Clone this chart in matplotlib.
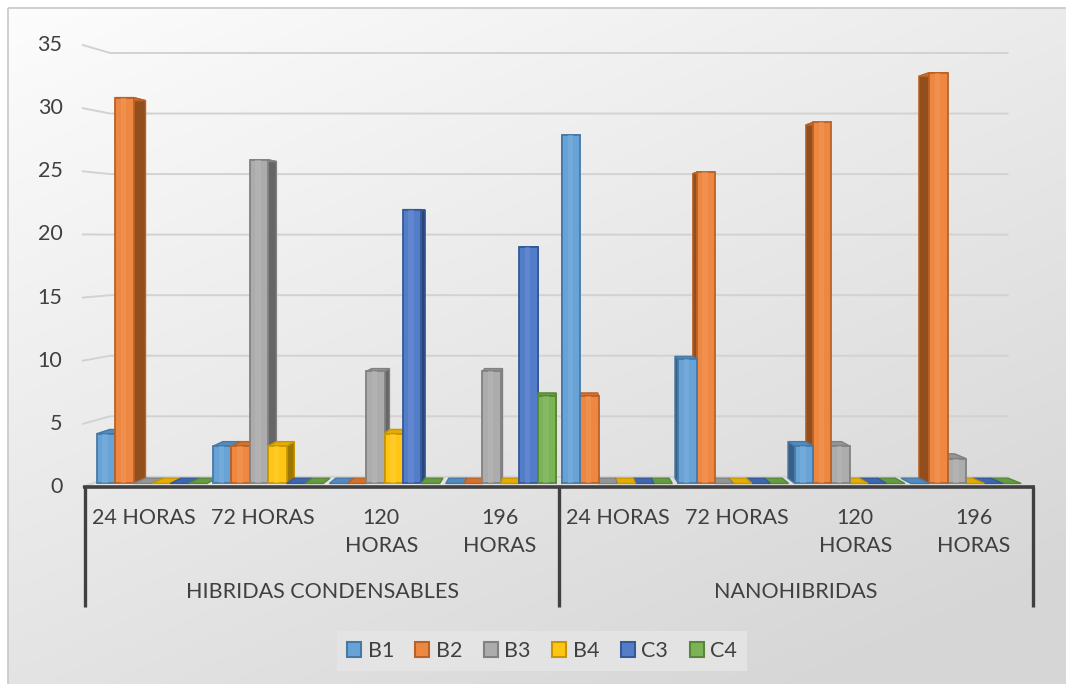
import numpy as np
import matplotlib.pyplot as plt
from matplotlib.patches import Polygon, Patch, Rectangle
import matplotlib.colors as mcolors

# datos: grupos de material, tiempos de medida y series
grupos = ["HIBRIDAS CONDENSABLES", "NANOHIBRIDAS"]
tiempos = ["24 HORAS", "72 HORAS", "120\nHORAS", "196\nHORAS"]
series = ["B1", "B2", "B3", "B4", "C3", "C4"]
colores = ["#5B9BD5", "#ED7D31", "#A5A5A5", "#FFC000", "#4472C4", "#70AD47"]

b1 = [4, 3, 0, 0, 28, 10, 3, 0]
b2 = [31, 3, 0, 0, 7, 25, 29, 33]
b3 = [0, 26, 9, 9, 0, 0, 3, 2]
b4 = [0, 3, 4, 0, 0, 0, 0, 0]
c3 = [0, 0, 22, 19, 0, 0, 0, 0]
c4 = [0, 0, 0, 7, 0, 0, 0, 0]
valores = [b1, b2, b3, b4, c3, c4]

yticks = [0, 5, 10, 15, 20, 25, 30, 35]

n_cat = len(grupos) * len(tiempos)

# perspectiva sencilla: punto de fuga y profundidad de barras y pared
XV, YV = n_cat / 2, 19.6
KX, KY = 0.053, 0.041
D_FRENTE, D_FONDO = 0.35, 0.87

def proy(x, y, d):
    return XV + (x - XV) * (1 - KX * d), YV + (y - YV) * (1 - KY * d)

def tono(c, f):
    r = np.array(mcolors.to_rgb(c))
    if f < 1:
        return tuple(r * f)
    return tuple(r + (1 - r) * (f - 1))

texto = "#404040"
plt.rcParams['font.family'] = ['Lato', 'DejaVu Sans']

fig = plt.figure(figsize=(10.66, 6.84), dpi=100)

# fondo degradado con marco
fondo = fig.add_axes([0, 0, 1, 1], zorder=-10)
gx, gy = np.meshgrid(np.linspace(0, 1, 300), np.linspace(0, 1, 200))
t = np.clip(0.45 * gx + 0.65 * gy, 0, 1)
img = np.dstack([0.99 - 0.15 * t] * 3)
fondo.imshow(img, extent=[8, 1066, 684, 8], aspect='auto')
fondo.add_patch(Rectangle((8, 8), 1070, 690, fill=False, ec="#c8c8c8", lw=1.2))
fondo.set_xlim(0, 1066)
fondo.set_ylim(684, 0)
fondo.axis('off')

ax = fig.add_axes([85 / 1066, (684 - 487) / 684, 948 / 1066, 442 / 684])
ax.set_xlim(0, n_cat)
ax.set_ylim(0, 35)
ax.axis('off')

# lineas de division en la pared del fondo
for v in yticks:
    xa, ya = proy(-0.02, v, 0)
    xb, yb = proy(0, v, 1)
    xc, yc = proy(n_cat, v, 1)
    ax.plot([xa, xb, xc], [ya, yb, yc], color="#d2d2d2", lw=1.4,
            solid_capstyle='round', clip_on=False, zorder=1)
    ax.text(-0.19, v, str(v), ha='right', va='center', fontsize=15.5,
            color=texto)

# barras con caras frontal, lateral y superior
ancho = 0.158
margen = (1 - len(series) * ancho) / 2
z = 5
for i in range(n_cat):
    orden = list(range(len(series)))
    if i >= n_cat / 2:
        orden = orden[::-1]
    for k in orden:
        h = valores[k][i]
        c = colores[k]
        x0 = i + margen + k * ancho
        x1 = x0 + ancho
        borde = tono(c, 0.78)
        xs = x1 if x1 <= XV else x0
        if h > 0:
            lado = [proy(xs, 0, D_FRENTE), proy(xs, h, D_FRENTE),
                    proy(xs, h, D_FONDO), proy(xs, 0, D_FONDO)]
            ax.add_patch(Polygon(lado, closed=True, fc=tono(c, 0.62),
                                 ec=borde, lw=1.0, zorder=z, clip_on=False))
        tapa = [proy(x0, h, D_FRENTE), proy(x1, h, D_FRENTE),
                proy(x1, h, D_FONDO), proy(x0, h, D_FONDO)]
        ax.add_patch(Polygon(tapa, closed=True, fc=tono(c, 0.9),
                             ec=borde, lw=1.0, zorder=z + 1, clip_on=False))
        if h > 0:
            fx0, fy0 = proy(x0, 0, D_FRENTE)
            fx1, fy1 = proy(x1, h, D_FRENTE)
            ax.add_patch(Rectangle((fx0, fy0), fx1 - fx0, fy1 - fy0,
                                   fc=tono(c, 1.08), ec=borde, lw=1.3,
                                   zorder=z + 2, clip_on=False))
            w = fx1 - fx0
            ax.add_patch(Rectangle((fx0 + 0.3 * w, fy0), 0.3 * w, fy1 - fy0,
                                   fc=tono(c, 1.2), ec='none', alpha=0.6,
                                   zorder=z + 3, clip_on=False))
        z += 4

# eje de categorias con dos niveles
ax.plot([-0.02, n_cat + 0.02], [0, 0], color="#404040", lw=2.6,
        clip_on=False, zorder=200, solid_capstyle='butt')
for xv in [0, n_cat / 2, n_cat]:
    ax.plot([xv, xv], [0, -9.5], color="#404040", lw=2.4, clip_on=False,
            zorder=200, solid_capstyle='butt')

for i in range(n_cat):
    lineas = tiempos[i % len(tiempos)].split("\n")
    for j, linea in enumerate(lineas):
        ax.text(i + 0.5, -2.45 - j * 2.2, linea, ha='center', va='center',
                fontsize=15.5, color=texto)
for g, nombre in enumerate(grupos):
    ax.text(g * len(tiempos) + len(tiempos) / 2, -8.35, nombre, ha='center',
            va='center', fontsize=15.5, color=texto)

# leyenda
manejadores = [Patch(fc=tono(c, 1.08), ec=tono(c, 0.78), lw=1.5)
               for c in colores]
leg = fig.legend(manejadores, series, loc='center', ncol=6,
                 bbox_to_anchor=(542 / 1066, 1 - 651 / 684),
                 fontsize=15.5, handlelength=0.65, handleheight=0.65,
                 handletextpad=0.3, columnspacing=1.0, frameon=True,
                 fancybox=False, borderpad=0.45)
leg.get_frame().set_facecolor("#e6e6e6")
leg.get_frame().set_edgecolor("none")
for tx in leg.get_texts():
    tx.set_color(texto)

fig.savefig("out.png", dpi=100)
